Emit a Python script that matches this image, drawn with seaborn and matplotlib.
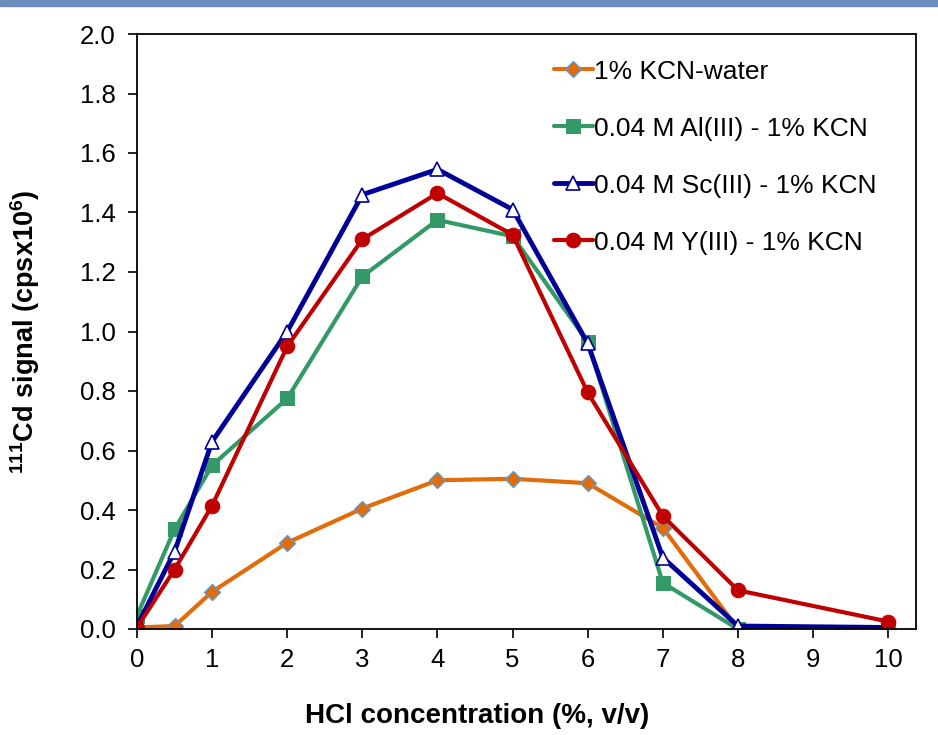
import pandas as pd
import matplotlib.pyplot as plt
import seaborn as sns

# HCl concentration (%, v/v)
hcl = [0, 0.5, 1, 2, 3, 4, 5, 6, 7, 8, 10]

# 111Cd signal (cps x 10^6)
kcn_water = [0.005, 0.01, 0.125, 0.29, 0.405, 0.50, 0.505, 0.49, 0.34, 0.0, 0.0]
al_kcn = [0.045, 0.335, 0.55, 0.775, 1.185, 1.375, 1.32, 0.965, 0.155, 0.0, 0.0]
sc_kcn = [0.01, 0.26, 0.63, 1.0, 1.46, 1.545, 1.41, 0.96, 0.24, 0.01, 0.005]
y_kcn = [0.005, 0.20, 0.415, 0.95, 1.31, 1.465, 1.325, 0.795, 0.38, 0.13, 0.025]

labels = ["1% KCN-water", "0.04 M Al(III) - 1% KCN",
          "0.04 M Sc(III) - 1% KCN", "0.04 M Y(III) - 1% KCN"]

sns.set_style("ticks")
plt.rcParams['font.family'] = ['Liberation Sans', 'DejaVu Sans']
plt.rcParams['mathtext.fontset'] = 'custom'
plt.rcParams['mathtext.rm'] = 'Liberation Sans:bold'
plt.rcParams['mathtext.default'] = 'rm'
plt.rcParams['text.color'] = 'black'
plt.rcParams['axes.labelcolor'] = 'black'
plt.rcParams['xtick.color'] = 'black'
plt.rcParams['ytick.color'] = 'black'

fig = plt.figure(figsize=(9.38, 7.35), dpi=100, facecolor="white")
ax = fig.add_axes([137/938, 1 - 629/735, (916-137)/938, (629-34)/735])

# header bar across the top
fig.patches.append(plt.Rectangle((0, 1 - 6/735), 1, 6/735, transform=fig.transFigure,
                                 color="#6d8ebd", zorder=0))

styles = [
    dict(color="#e36c0a", marker="D", markersize=8.5, markerfacecolor="#e36c0a",
         markeredgecolor="#5b9bd5", markeredgewidth=1.0, linewidth=3),
    dict(color="#339966", marker="s", markersize=10, markerfacecolor="#339966",
         markeredgecolor="#339966", linewidth=3),
    dict(color="#000099", marker="^", markersize=10.5, markerfacecolor="white",
         markeredgecolor="#000099", markeredgewidth=1.2, linewidth=3.5),
    dict(color="#c00000", marker="o", markersize=10.5, markerfacecolor="#c00000",
         markeredgecolor="#c00000", linewidth=3),
]

for vals, lab, st in zip([kcn_water, al_kcn, sc_kcn, y_kcn], labels, styles):
    df = pd.DataFrame({"x": hcl, "y": vals})
    sns.lineplot(data=df, x="x", y="y", ax=ax, label=lab, **st)

ax.set_xlim(0, 10.37)
ax.set_ylim(0, 2.0)
ax.set_xticks(range(0, 11))
ax.set_yticks([i * 0.2 for i in range(11)])
ax.set_yticklabels([f"{i * 0.2:.1f}" for i in range(11)])
ax.tick_params(labelsize=18.5, length=6.5, width=1.2, direction="out")
ax.tick_params(axis="y", pad=9)
ax.tick_params(axis="x", pad=7)
for s in ax.spines.values():
    s.set_color("black")
    s.set_linewidth(1.3)

ax.set_xlabel("HCl concentration (%, v/v)", fontsize=20, fontweight="bold")
ax.set_ylabel(r"$^{111}$Cd signal (cpsx10$^{6}$)", fontsize=19.5, fontweight="bold")
ax.xaxis.set_label_coords(0.436, -0.125)
ax.yaxis.set_label_coords(-0.122, 0.5)

ax.legend(loc="upper left", frameon=False, fontsize=19, handlelength=1.5,
          handletextpad=0.05, labelspacing=1.25, borderaxespad=0.0,
          bbox_to_anchor=((543-137)/779, 1 - (49-34)/595))

plt.savefig("out.png", dpi=100)
